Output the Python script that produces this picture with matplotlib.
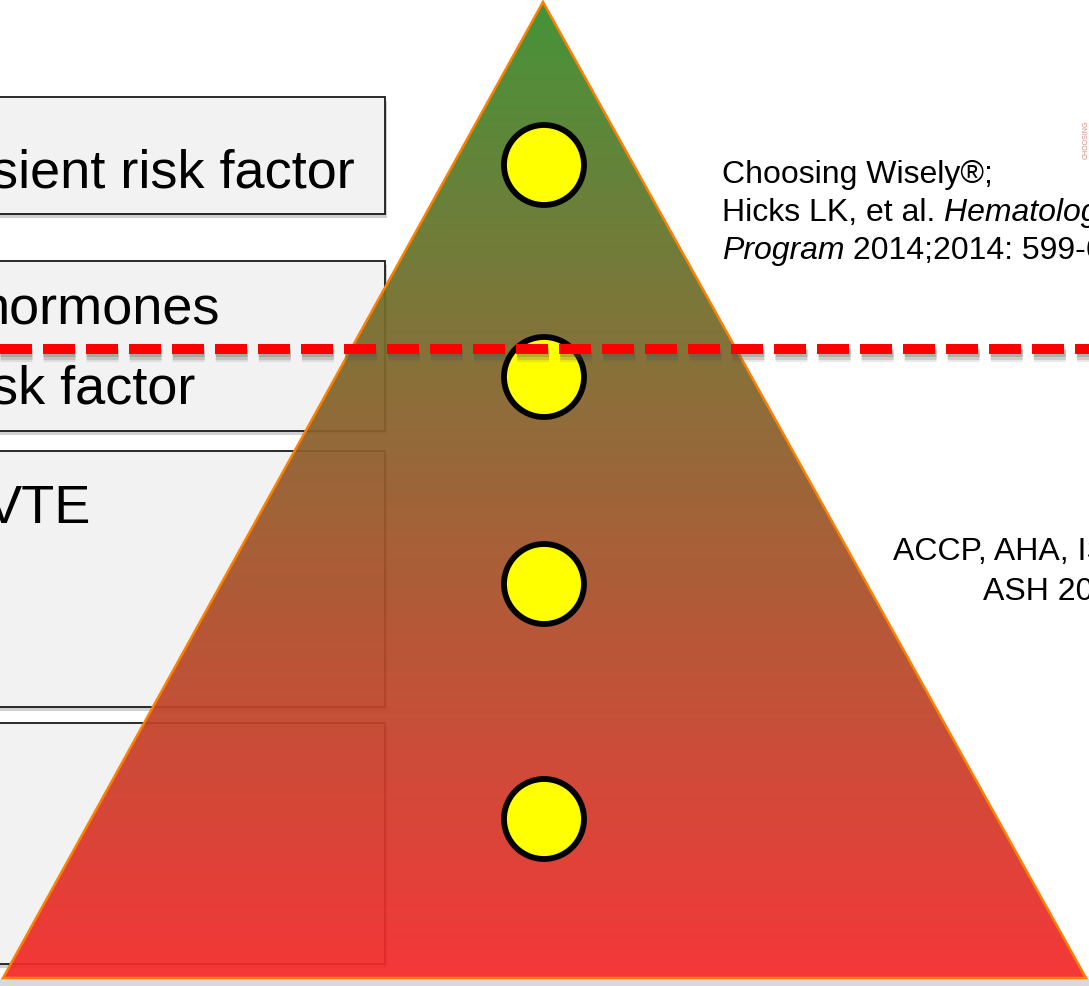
import numpy as np
import matplotlib
matplotlib.use("Agg")
import matplotlib.pyplot as plt
from matplotlib.patches import Polygon, Rectangle, Circle
from matplotlib.colors import LinearSegmentedColormap

plt.rcParams['font.family'] = ['Liberation Sans', 'DejaVu Sans']

# slide content (pixel positions on the 1089x987 canvas)
box_tops = [98, 262, 452, 724]
box_bottoms = [215, 432, 708, 965]
box_labels = ["sient risk factor", "hormones", "VTE", ""]
label_right = [355, 220, 91, 0]
label_base = [187, 323, 523, 0]
extra_labels = [("sk factor", 195, 403)]

dot_rows = [166, 378, 585, 820]
dash_y = 350

W, H = 1089, 987
fig = plt.figure(figsize=(W / 100, H / 100), dpi=100)
ax = fig.add_axes([0, 0, 1, 1])
ax.set_xlim(0, W)
ax.set_ylim(H, 0)
ax.axis('off')

# bottom slide shadow
ax.add_patch(Rectangle((0, 980), W, 8, facecolor='#d9d9d9', edgecolor='none', zorder=0))

# left boxes
for top, bot in zip(box_tops, box_bottoms):
    ax.add_patch(Rectangle((-5, top + 4), 392, bot - top, facecolor='#d0d0d0',
                           edgecolor='none', zorder=1))
    ax.add_patch(Rectangle((-5, top), 390, bot - top, facecolor='#f2f2f2',
                           edgecolor='#1a1a1a', linewidth=1.3, zorder=2))

fs = 39
for lab, xr, yb in zip(box_labels, label_right, label_base):
    if lab:
        ax.text(xr, yb, lab, ha='right', va='baseline', fontsize=fs, color='black', zorder=3)
for lab, xr, yb in extra_labels:
    ax.text(xr, yb, lab, ha='right', va='baseline', fontsize=fs, color='black', zorder=3)

# gradient triangle
apex, left, right = (543, 3), (3, 979), (1086, 979)
cmap = LinearSegmentedColormap.from_list('gr', ['#3a8c2c', '#f42a2a'])
grad = np.linspace(0, 1, 256).reshape(-1, 1)
im = ax.imshow(grad, extent=(0, W, 979, 3), cmap=cmap, aspect='auto',
               alpha=0.94, zorder=5, interpolation='bilinear')
im.set_clip_path(Polygon([apex, right, left], closed=True, transform=ax.transData))
ax.add_patch(Polygon([apex, right, left], closed=True, facecolor='none',
                     edgecolor='#ff8000', linewidth=1.8, zorder=6))

# yellow dots
for cy in dot_rows:
    ax.add_patch(Circle((544, cy), 40, facecolor='#ffff00', edgecolor='black',
                        linewidth=4.2, zorder=8))

# red dashed divider with soft shadow
for off, lw, a in [(5, 11, 0.12), (5, 8, 0.2), (4, 5, 0.25)]:
    ax.plot([0, W], [dash_y + off, dash_y + off], color='#555555', linewidth=lw, alpha=a,
            dashes=(23 / lw, 8 / lw), dash_capstyle='butt', zorder=9)
ax.plot([0, W], [dash_y, dash_y], color='#ff0000', linewidth=7.2,
        dashes=(3.2, 1.1), dash_capstyle='butt', zorder=10)

# references
rfs = 23
ax.text(722, 183, "Choosing Wisely®;", fontsize=rfs, va='baseline', ha='left', zorder=11)
t1 = ax.text(722, 221, "Hicks LK, et al. ", fontsize=rfs, va='baseline', ha='left', zorder=11)
ax.annotate("Hematology Am Soc Hematol Educ", xycoords=t1, xy=(1, 0), va='bottom',
            ha='left', fontsize=rfs, style='italic', zorder=11)
t2 = ax.text(722, 259, "Program", fontsize=rfs, style='italic', va='baseline', ha='left', zorder=11)
ax.annotate(" 2014;2014: 599-605.", xycoords=t2, xy=(1, 0), va='bottom', ha='left',
            fontsize=rfs, zorder=11)

ax.text(893, 560, "ACCP, AHA, ISTH, NICE", fontsize=rfs, va='baseline', ha='left', zorder=11)
ax.text(983, 600, "ASH 2020", fontsize=rfs, va='baseline', ha='left', zorder=11)

# faint logo stamp
ax.text(1086, 140, "CHOOSING", fontsize=5, rotation=90, color='#c0392b', alpha=0.6,
        ha='center', va='center', zorder=11)

fig.savefig('out.png', dpi=100)
